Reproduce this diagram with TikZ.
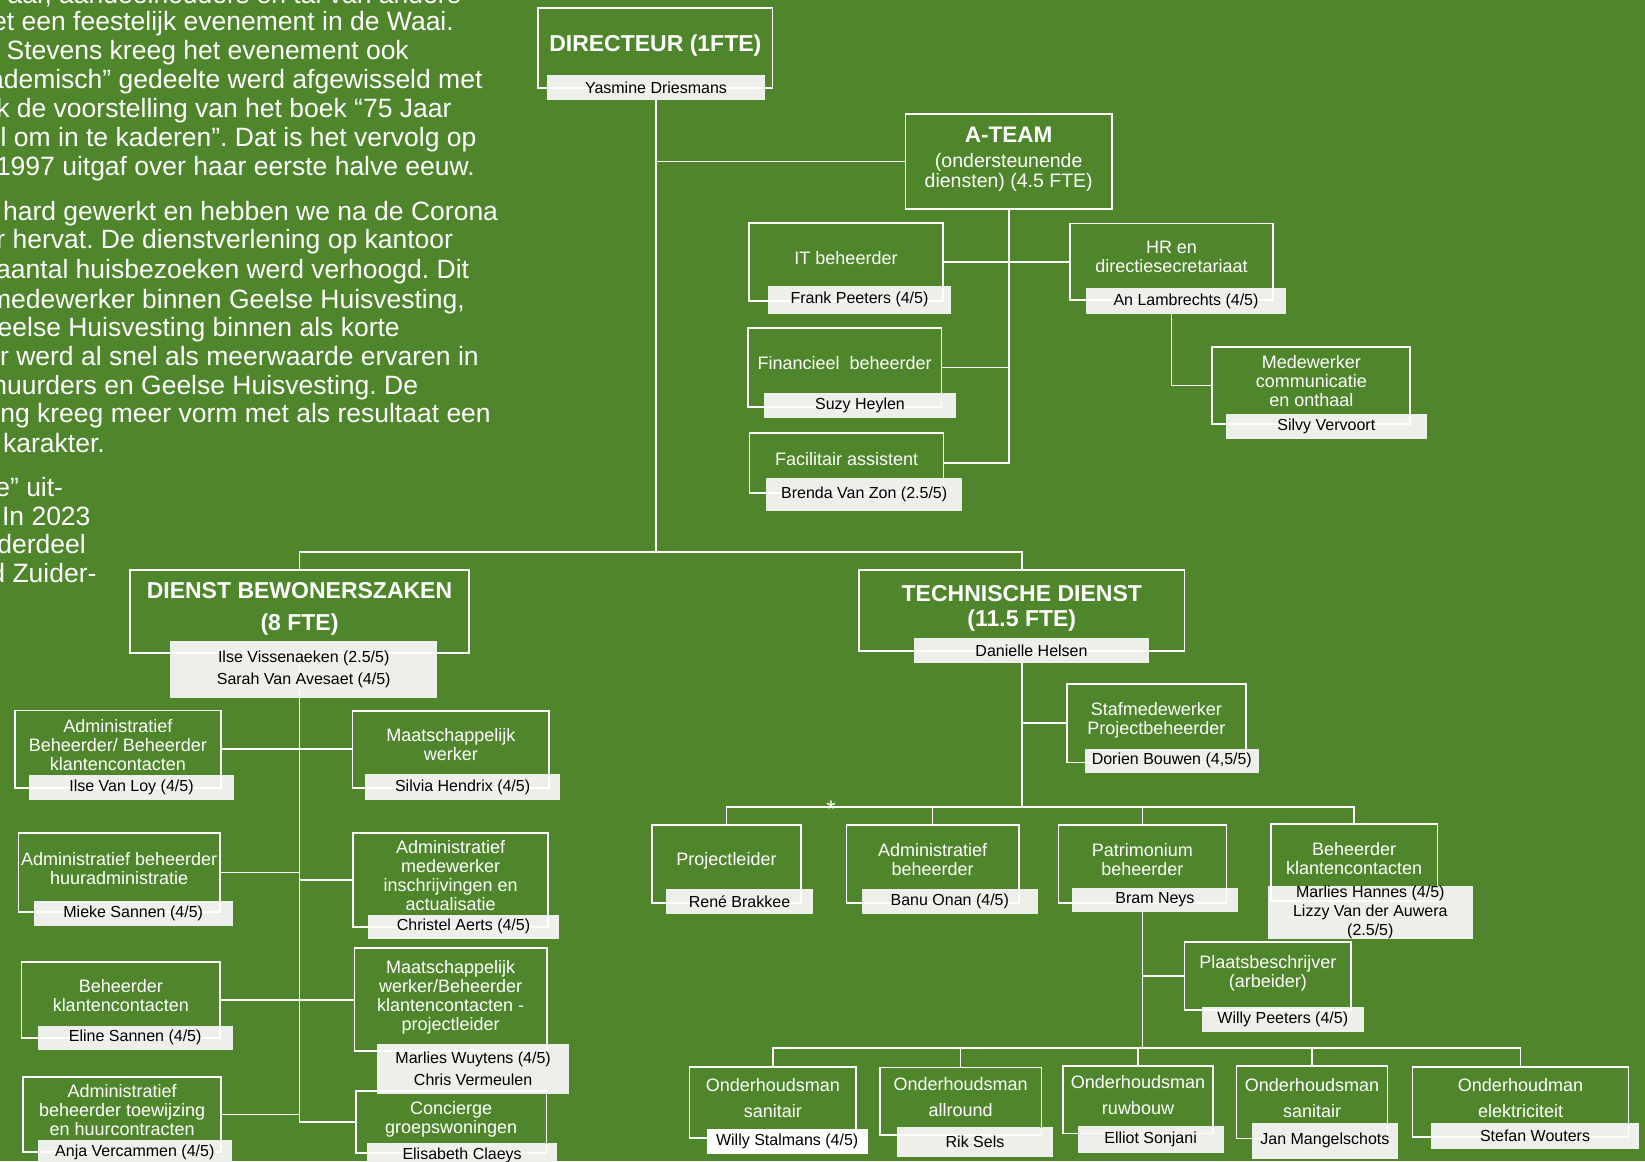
\documentclass[tikz,border=0pt]{standalone}
\usepackage{fontspec}
\setmainfont{Liberation Sans}
\usetikzlibrary{positioning,calc}
\definecolor{leaf}{HTML}{4F862C}
\definecolor{namebg}{HTML}{EDEFEA}
\pgfdeclarelayer{back}
\pgfdeclarelayer{mid}
\pgfsetlayers{back,mid,main}
\frenchspacing

\begin{document}
\begin{tikzpicture}[
  x=1pt, y=-1pt,
  role/.style={draw=white, line width=1.7pt, text=white, align=center,
               inner sep=0pt, text depth=9pt, font=\fontsize{18}{19}\selectfont},
  head/.style={role, font=\fontsize{23}{25}\selectfont\bfseries},
  wide/.style={role, font=\fontsize{18}{26}\selectfont},
  who/.style={text=black, align=center, inner sep=0pt,
              font=\fontsize{16}{22}\selectfont},
  link/.style={draw=white, line width=1.7pt},
  para/.style={anchor=base east, text=white, inner sep=0pt,
               font=\fontsize{26.5}{29}\selectfont},
]
\useasboundingbox (0,0) rectangle (1645,1161);
\begin{pgfonlayer}{back}
\fill[leaf] (0,0) rectangle (1645,1161);
\end{pgfonlayer}
\clip (0,0) rectangle (1645,1161);

\node[para] (p0) at (461.7,4) {aar, aandeelhouders en tal van andere};
\node[para] (p1) at (454,30.2) {et een feestelijk evenement in de Waai.};
\node[para] (p2) at (409,59.3) {Stevens kreeg het evenement ook};
\node[para] (p3) at (482.7,88.8) {ademisch” gedeelte werd afgewisseld met};
\node[para] (p4) at (451.7,117.5) {k de voorstelling van het boek “75 Jaar};
\node[para] (p5) at (476.7,146.9) {l om in te kaderen”. Dat is het vervolg op};
\node[para] (p6) at (475,175.6) {1997 uitgaf over haar eerste halve eeuw.};
\node[para] (p7) at (498.3,220) {hard gewerkt en hebben we na de Corona};
\node[para] (p8) at (453.3,248.7) {r hervat. De dienstverlening op kantoor};
\node[para] (p9) at (469.3,278.2) {aantal huisbezoeken werd verhoogd. Dit};
\node[para] (p10) at (465,308.1) {medewerker binnen Geelse Huisvesting,};
\node[para] (p11) at (400,336.8) {eelse Huisvesting binnen als korte};
\node[para] (p12) at (479,365.4) {r werd al snel als meerwaarde ervaren in};
\node[para] (p13) at (418.3,394.9) {huurders en Geelse Huisvesting. De};
\node[para] (p14) at (491,422.9) {ng kreeg meer vorm met als resultaat een};
\node[para] (p15) at (105,452.3) {karakter.};
\node[para] (p16) at (63.3,496.4) {e” uit-};
\node[para] (p17) at (90.7,525) {In 2023};
\node[para] (p18) at (86,553.7) {derdeel};
\node[para] (p19) at (96.7,582.4) {d Zuider-};

\node[who, minimum width=218, minimum height=24.3] (yasm) at (656,87.8) {Yasmine Driesmans};
\node[who, minimum width=183, minimum height=28] (frank) at (859.5,299.7) {Frank Peeters (4/5)};
\node[who, minimum width=192, minimum height=25] (suzy) at (860,405.2) {Suzy Heylen};
\node[who, minimum width=195.6, minimum height=32.4] (brenda) at (864.2,494.5) {Brenda Van Zon (2.5/5)};
\node[who, minimum width=200, minimum height=25.4] (an) at (1186,301) {An Lambrechts (4/5)};
\node[who, minimum width=200.7, minimum height=24.7] (silvy) at (1326.3,426.3) {Silvy Vervoort};
\node[who, minimum width=267, minimum height=56.6] (ilse) at (303.7,669) {Ilse Vissenaeken (2.5/5)\\Sarah Van Avesaet (4/5)};
\node[who, minimum width=205.3, minimum height=24] (loy) at (131.5,787.3) {Ilse Van Loy (4/5)};
\node[who, minimum width=194.2, minimum height=25.4] (silvia) at (462.6,787) {Silvia Hendrix (4/5)};
\node[who, minimum width=198.3, minimum height=24.7] (mieke) at (133.2,913.3) {Mieke Sannen (4/5)};
\node[who, minimum width=190.1, minimum height=23.3] (christel) at (463.5,926.7) {Christel Aerts (4/5)};
\node[who, minimum width=194.2, minimum height=23.3] (eline) at (135.2,1037.7) {Eline Sannen (4/5)};
\node[who, minimum width=190.9, minimum height=49.3] (wuytens) at (473.1,1068.7) {Marlies Wuytens (4/5)\\Chris Vermeulen};
\node[who, minimum width=193.5, minimum height=25] (anja) at (134.8,1152.5) {Anja Vercammen (4/5)};
\node[who, minimum width=189.4, minimum height=24.7] (elis) at (462.1,1155.6) {Elisabeth Claeys};
\node[who, minimum width=234.9, minimum height=24] (danielle) at (1031.5,650.3) {Danielle Helsen};
\node[who, minimum width=174, minimum height=23] (dorien) at (1171.8,760.8) {Dorien Bouwen (4,5/5)};
\node[who, minimum width=147.5, minimum height=24.7] (rene) at (739.5,901.7) {René Brakkee};
\node[who, minimum width=176, minimum height=24.7] (banu) at (949.8,901.7) {Banu Onan (4/5)};
\node[who, minimum width=165.3, minimum height=23.4] (bram) at (1154.9,900) {Bram Neys};
\node[who, minimum width=204, minimum height=51.6, font=\fontsize{16}{19}\selectfont] (hannes) at (1370.3,912.5) {Marlies Hannes (4/5)\\Lizzy Van der Auwera\\(2.5/5)};
\node[who, minimum width=161.5, minimum height=25] (willyp) at (1282.8,1019.2) {Willy Peeters (4/5)};
\node[who, minimum width=160.3, minimum height=24.7] (stalmans) at (787.2,1141.7) {Willy Stalmans (4/5)};
\node[who, minimum width=155.2, minimum height=29.4] (rik) at (975,1142) {Rik Sels};
\node[who, minimum width=145.7, minimum height=26.7] (elliot) at (1150.6,1139.4) {Elliot Sonjani};
\node[who, minimum width=146.3, minimum height=35] (jan) at (1324.9,1140.8) {Jan Mangelschots};
\node[who, minimum width=207.2, minimum height=25.6] (stefan) at (1535,1135.5) {Stefan Wouters};

\begin{pgfonlayer}{back}
\foreach \n in {yasm,frank,suzy,brenda,an,silvy,ilse,loy,silvia,mieke,christel,eline,
                wuytens,anja,elis,danielle,dorien,rene,banu,bram,hannes,willyp,rik,elliot,jan,stefan}
  \fill[namebg] (\n.south west) rectangle (\n.north east);
\fill[white] (stalmans.south west) rectangle (stalmans.north east);
\end{pgfonlayer}

\begin{pgfonlayer}{mid}
\node[head, minimum width=234.6, minimum height=79.4] (dir) at (655.3,48) {DIRECTEUR (1FTE)};
\node[role, minimum width=206.6, minimum height=95, font=\fontsize{19.5}{20}\selectfont] (ateam) at (1008.7,161.5)
  {{\fontsize{22.5}{25}\selectfont\bfseries A-TEAM}\\[5pt](ondersteunende\\diensten) (4.5 FTE)};
\node[role, minimum width=194, minimum height=77.4] (it) at (846,262) {IT beheerder};
\node[role, minimum width=193.3, minimum height=78.4] (fin) at (844.7,367.5) {Financieel\ \ beheerder};
\node[role, minimum width=194, minimum height=60] (fac) at (846.6,463.3) {Facilitair assistent};
\node[role, minimum width=202.4, minimum height=76.7] (hr) at (1171.5,261.7) {HR en\\directiesecretariaat};
\node[role, minimum width=198, minimum height=77] (med) at (1311.3,385.5) {Medewerker\\communicatie\\en onthaal};

\node[head, minimum width=338.5, minimum height=82.7, font=\fontsize{23}{32}\selectfont\bfseries] (bew) at (299.5,611.3)
  {DIENST BEWONERSZAKEN\\(8 FTE)};
\node[head, minimum width=325.5, minimum height=80.7] (tech) at (1021.8,610.3) {TECHNISCHE DIENST\\(11.5 FTE)};

\node[role, minimum width=206.1, minimum height=77.7] (adm1) at (117.9,749.2) {Administratief\\Beheerder/ Beheerder\\klantencontacten};
\node[role, minimum width=196.4, minimum height=77] (mw1) at (450.8,749.2) {Maatschappelijk\\werker};
\node[role, minimum width=201.3, minimum height=79.6] (adm2) at (119.2,872.5) {Administratief beheerder\\huuradministratie};
\node[role, minimum width=194.6, minimum height=94.6] (adm3) at (450.6,880) {Administratief\\medewerker\\inschrijvingen en\\actualisatie};
\node[role, minimum width=198.6, minimum height=76.3] (bk1) at (120.8,999.9) {Beheerder\\klantencontacten};
\node[role, minimum width=192.4, minimum height=102.4] (mw2) at (450.6,999.5) {Maatschappelijk\\werker/Beheerder\\klantencontacten -\\projectleider};
\node[role, minimum width=197.6, minimum height=75.6] (adm4) at (122.1,1114.5) {Administratief\\beheerder toewijzing\\en huurcontracten};
\node[role, minimum width=190.5, minimum height=62.6] (conc) at (451.2,1122) {Concierge\\groepswoningen};

\node[role, minimum width=178.8, minimum height=78.3] (staf) at (1156.4,723.2) {Stafmedewerker\\Projectbeheerder};
\node[role, minimum width=149.1, minimum height=77.7] (proj) at (726.5,863.9) {Projectleider};
\node[role, minimum width=172.4, minimum height=77.7] (admb) at (932.6,863.9) {Administratief\\beheerder};
\node[role, minimum width=168, minimum height=77.7] (pat) at (1142.4,863.9) {Patrimonium\\beheerder};
\node[role, minimum width=166.3, minimum height=76.4] (bk2) at (1354.2,862.5) {Beheerder\\klantencontacten};
\node[role, minimum width=166.5, minimum height=68.3] (plaats) at (1267.8,975.9) {Plaatsbeschrijver\\(arbeider)};
\node[wide, minimum width=166.5, minimum height=71.6] (ond1) at (772.8,1102.5) {Onderhoudsman\\sanitair};
\node[wide, minimum width=161.5, minimum height=67.7] (ond2) at (960.6,1101.2) {Onderhoudsman\\allround};
\node[wide, minimum width=149.5, minimum height=67.3] (ond3) at (1138,1099.7) {Onderhoudsman\\ruwbouw};
\node[wide, minimum width=150.8, minimum height=72.3] (ond4) at (1312,1102.2) {Onderhoudsman\\sanitair};
\node[wide, minimum width=216, minimum height=70.6] (ond5) at (1520.5,1102) {Onderhoudman\\elektriciteit};

\node[text=white, inner sep=0pt, font=\fontsize{24}{24}\selectfont] (star) at (831,809) {*};

\coordinate (hub) at (656,552);
\coordinate (tbar) at (1021.8,807.3);
\coordinate (pbar) at (1142.4,1048.3);

\draw[link] (yasm.south) -- (hub);
\draw[link] (bew.north) |- (hub) -| (tech.north);
\draw[link] (yasm.south |- ateam.west) -- (ateam.west);
\draw[link] (ateam.south) |- (fac.east);
\draw[link] (it.east) -- (it.east -| hr.west);
\draw[link] (fin.east) -- (fin.east -| ateam.south);
\draw[link] (an.south -| hr.south) |- (med.west);

\draw[link] (bew.south) |- (conc.west);
\draw[link] (adm1.east) -- (adm1.east -| mw1.west);
\draw[link] (adm2.east) -- (adm2.east -| bew.south);
\draw[link] (adm3.west) -- (adm3.west -| bew.south);
\draw[link] (bk1.east) -- (bk1.east -| mw2.west);
\draw[link] (adm4.east) -- (adm4.east -| bew.south);

\draw[link] (danielle.south -| tech.south) -- (tbar);
\draw[link] (staf.west) -- (staf.west -| tech.south);
\draw[link] (proj.north) |- (tbar) -| (bk2.north);
\draw[link] (admb.north) -- (admb.north |- tbar);
\draw[link] (pat.north) -- (pat.north |- tbar);
\draw[link] (bram.south -| pat.south) -- (pbar);
\draw[link] (plaats.west) -- (plaats.west -| pat.south);
\draw[link] (ond1.north) |- (pbar) -| (ond5.north);
\draw[link] (ond2.north) -- (ond2.north |- pbar);
\draw[link] (ond3.north) -- (ond3.north |- pbar);
\draw[link] (ond4.north) -- (ond4.north |- pbar);
\end{pgfonlayer}
\end{tikzpicture}
\end{document}
